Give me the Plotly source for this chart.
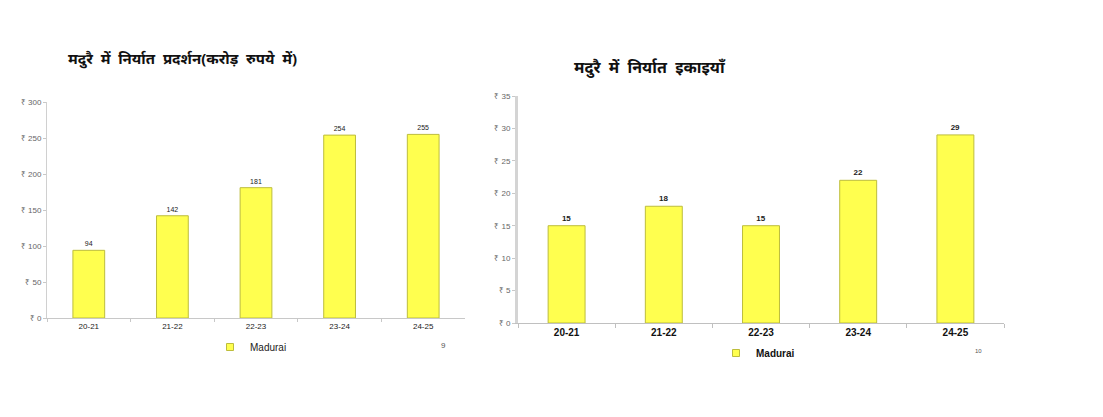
import plotly.graph_objects as go

PAGE_W, PAGE_H = 1103, 417
OFF = 8  # default body margin of the html page
W, H = PAGE_W - OFF, PAGE_H - OFF

categories = ["20-21", "21-22", "22-23", "23-24", "24-25"]
export_value_cr = [94, 142, 181, 254, 255]
export_units = [15, 18, 15, 22, 29]
series_name = "Madurai"

title_left = "मदुरै में निर्यात प्रदर्शन(करोड़ रुपये में)"
title_right = "मदुरै में निर्यात इकाइयाँ"

BAR_FILL = "#FFFF4F"
BAR_LINE = "#BDBD3C"

def px_x(p):
    return (p - OFF) / W

def px_y(p):
    return 1 - (p - OFF) / H

def spaced(s):
    return s.replace(" ", " \u00a0")

fig = go.Figure()

fig.add_trace(go.Bar(
    x=categories, y=export_value_cr, name=series_name,
    marker=dict(color=BAR_FILL, line=dict(color=BAR_LINE, width=1)),
    text=[str(v) for v in export_value_cr], textposition="outside",
    textfont=dict(family="Arial, Liberation Sans, sans-serif", size=7, color="#222222"),
    cliponaxis=False, xaxis="x", yaxis="y", showlegend=False,
))
fig.add_trace(go.Bar(
    x=categories, y=export_units, name=series_name,
    marker=dict(color=BAR_FILL, line=dict(color=BAR_LINE, width=1)),
    text=[str(v) for v in export_units], textposition="outside",
    textfont=dict(family="Arial, Liberation Sans, sans-serif", size=8, color="#222222", weight="bold"),
    cliponaxis=False, xaxis="x2", yaxis="y2", showlegend=False,
))
# legend entries (small square swatches like the original)
fig.add_trace(go.Scatter(
    x=[None], y=[None], mode="markers", name=series_name,
    marker=dict(symbol="square", size=7, color=BAR_FILL, line=dict(color=BAR_LINE, width=1)),
    xaxis="x", yaxis="y", legend="legend",
))
fig.add_trace(go.Scatter(
    x=[None], y=[None], mode="markers", name=series_name,
    marker=dict(symbol="square", size=7, color=BAR_FILL, line=dict(color=BAR_LINE, width=1)),
    xaxis="x2", yaxis="y2", legend="legend2",
))

tickfont_y = dict(family="Arial, Liberation Sans, sans-serif", size=8, color="#666666")

fig.update_layout(
    width=W, height=H,
    margin=dict(l=0, r=0, t=0, b=0, autoexpand=False),
    paper_bgcolor="white", plot_bgcolor="white",
    bargap=0.62,
    showlegend=True,
    xaxis=dict(domain=[px_x(47), px_x(465)], anchor="y", automargin=False,
               showline=True, linecolor="#c8c8c8", linewidth=1,
               ticks="outside", tickson="boundaries", ticklen=3, tickcolor="#c8c8c8",
               tickfont=dict(family="Arial, Liberation Sans, sans-serif", size=8, color="#222222"),
               showgrid=False),
    yaxis=dict(domain=[px_y(318), px_y(102)], anchor="x", range=[0, 300], dtick=50, automargin=False,
               tickprefix="₹ ", showline=True, linecolor="#d0d0d0", linewidth=1,
               ticks="outside", ticklen=3, tickcolor="#c8c8c8",
               tickfont=tickfont_y, showgrid=False, zeroline=False),
    xaxis2=dict(domain=[px_x(518), px_x(1004)], anchor="y2", automargin=False,
                showline=True, linecolor="#c0c0c0", linewidth=1,
                ticks="outside", tickson="boundaries", ticklen=4, tickcolor="#c0c0c0",
                tickfont=dict(family="Arial, Liberation Sans, sans-serif", size=10, color="#111111", weight="bold"),
                showgrid=False),
    yaxis2=dict(domain=[px_y(323), px_y(96)], anchor="x2", range=[0, 35], dtick=5, automargin=False,
                tickprefix="₹ ", showline=True, linecolor="#d4d4d4", linewidth=3,
                ticks="outside", ticklen=3, tickcolor="#c8c8c8",
                tickfont=tickfont_y, showgrid=False, zeroline=False),
    legend=dict(x=px_x(210), y=px_y(347), xanchor="left", yanchor="middle",
                font=dict(family="Arial, Liberation Sans, sans-serif", size=10, color="#222222"),
                itemwidth=30, bgcolor="rgba(0,0,0,0)"),
    legend2=dict(x=px_x(716), y=px_y(353), xanchor="left", yanchor="middle",
                 font=dict(family="Arial, Liberation Sans, sans-serif", size=10, color="#111111", weight="bold"),
                 itemwidth=30, bgcolor="rgba(0,0,0,0)"),
    annotations=[
        dict(text=spaced(title_left), x=px_x(182), y=px_y(58), xref="paper", yref="paper",
             xanchor="center", yanchor="middle", showarrow=False,
             font=dict(family="Noto Sans, sans-serif", size=15, color="#111111", weight="bold")),
        dict(text=spaced(title_right), x=px_x(650), y=px_y(67), xref="paper", yref="paper",
             xanchor="center", yanchor="middle", showarrow=False,
             font=dict(family="Noto Sans, sans-serif", size=16, color="#111111", weight="bold")),
        dict(text="9", x=px_x(443), y=px_y(345), xref="paper", yref="paper",
             xanchor="center", yanchor="middle", showarrow=False,
             font=dict(family="Arial, sans-serif", size=8, color="#555555")),
        dict(text="10", x=px_x(978), y=px_y(351), xref="paper", yref="paper",
             xanchor="center", yanchor="middle", showarrow=False,
             font=dict(family="Arial, sans-serif", size=6, color="#555555")),
    ],
)

fig.write_html("out.html")
